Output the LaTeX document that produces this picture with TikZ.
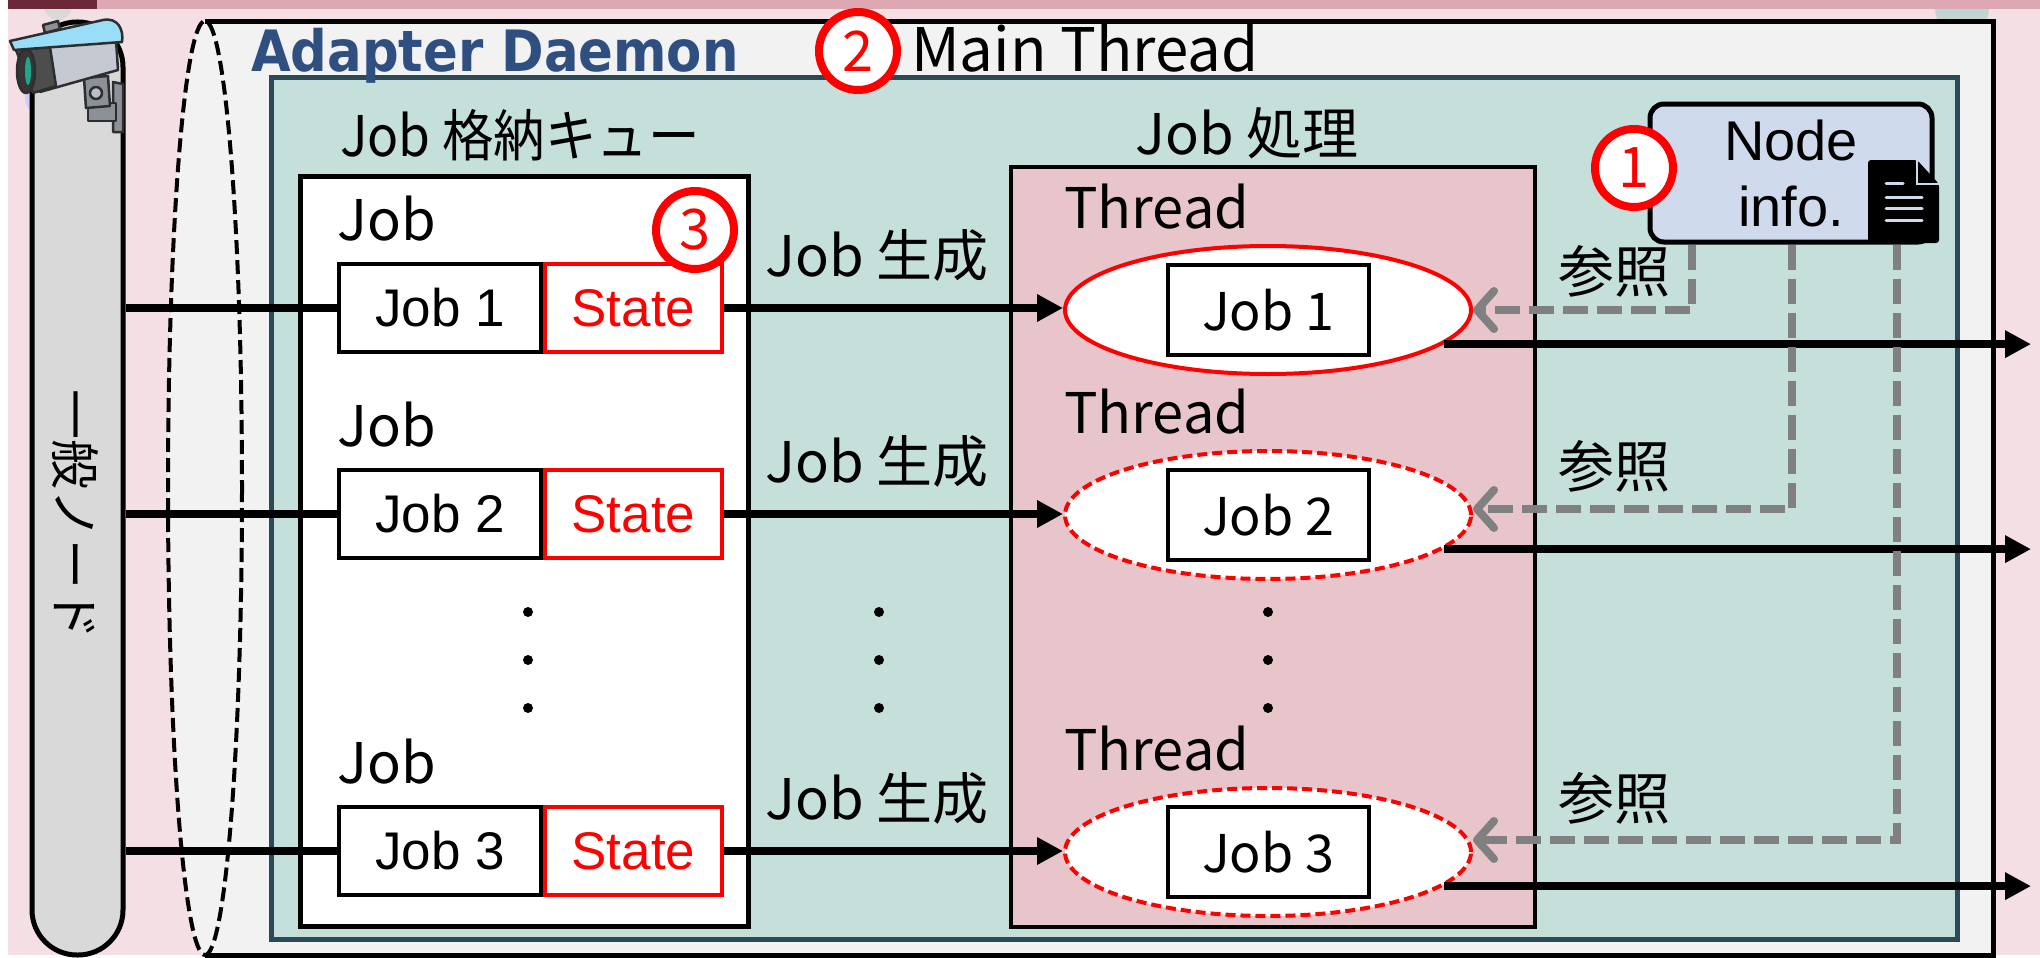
\documentclass[tikz,border=0pt]{standalone}
\usepackage{fontspec}
\setmainfont{Liberation Sans}
\newfontfamily\jpfont{Noto Sans CJK JP}
\newfontfamily\jpnarrow[FakeStretch=0.92]{Noto Sans CJK JP}
\newfontfamily\daemonfont[FakeStretch=0.9]{DejaVu Sans}
\usetikzlibrary{arrows.meta,shapes.geometric,positioning}

\definecolor{bgpink}{HTML}{F3DFE4}
\definecolor{barpink}{HTML}{DEA8B3}
\definecolor{barwine}{HTML}{6B2839}
\definecolor{daemongray}{HTML}{F2F2F2}
\definecolor{mainteal}{HTML}{C5DFDB}
\definecolor{mainedge}{HTML}{2B4A55}
\definecolor{threadpink}{HTML}{E8C4CB}
\definecolor{infoblue}{HTML}{CFDBEC}
\definecolor{titleblue}{HTML}{2F4F80}
\definecolor{refgray}{HTML}{808080}
\definecolor{pipegray}{HTML}{D9D9D9}
\definecolor{camedge}{HTML}{2E2E2E}
\definecolor{camvisor}{HTML}{9ADDF6}
\definecolor{cambody}{HTML}{C5CAD2}
\definecolor{cambarrel}{HTML}{4D4D4D}
\definecolor{camlens}{HTML}{1DA88E}
\definecolor{camsteel}{HTML}{8C9198}

\begin{document}
\begin{tikzpicture}[
    x=1pt, y=-1pt,
    lbl/.style={font=\jpfont\fontsize{56}{60}\selectfont, inner sep=0pt},
    jobbox/.style={draw, line width=4pt, fill=white, minimum width=202pt, minimum height=88pt, inner sep=0pt, font=\fontsize{53}{60}\selectfont},
    statebox/.style={jobbox, draw=red, text=red, minimum width=177pt},
    thread/.style={ellipse, draw=red, line width=4pt, fill=white, minimum width=406pt, minimum height=128pt, inner sep=0pt},
    threadidle/.style={thread, dash pattern=on 10pt off 5pt},
    jobrun/.style={draw, line width=4pt, fill=white, minimum width=201pt, minimum height=90pt, inner sep=0pt, font=\jpfont\fontsize{52}{60}\selectfont},
    badge/.style={circle, draw=red, line width=8pt, fill=white, minimum size=78pt, inner sep=0pt, text=red, font=\jpfont\fontsize{56}{60}\selectfont},
    link/.style={line width=7.5pt},
    flow/.style={link, -{Triangle[length=26pt,width=26pt]}},
    ref/.style={draw=refgray, line width=8pt, dash pattern=on 25pt off 9pt, -{Straight Barb[length=17pt,width=38pt,round]}}
]
    \useasboundingbox (0,0) rectangle (2040,958);

    % slide background and top bar
    \fill[white] (0,0) rectangle (2040,958);
    \fill[bgpink] (8,0) rectangle (2040,955);
    \fill[gray!30] (58,6) circle (14);
    \fill[mainteal!90!gray] (1962,8) circle (27);
    \fill[barpink] (8,0) rectangle (2040,9);
    \fill[barwine] (8,0) rectangle (97,9);
    \fill[infoblue!80!blue!60!white] (43,98) circle (18);

    % daemon area, left side closed by the dashed ellipse
    \fill[daemongray] (205,488) ellipse [x radius=37, y radius=467];
    \fill[daemongray] (205,22) rectangle (1993,955);
    \draw[line width=5pt] (205,22) -- (1993,22) -- (1993,955) -- (205,955);
    \draw[line width=4pt, dash pattern=on 14pt off 6pt] (205,488) ellipse [x radius=37, y radius=467];

    % general node pipe
    \node[draw, fill=pipegray, line width=5pt, rounded corners=45pt, minimum width=91pt, minimum height=933pt] (pipe) at (77.5,488.5) {};
    \node[lbl, rotate=-90, font=\jpfont\fontsize{50}{55}\selectfont] (pipelbl) at (75,514) {一般ノード};

    % camera on top of the pipe
    \begin{scope}[line width=2.5pt, draw=camedge, line join=round]
        \filldraw[fill=camsteel] (113,82) -- (123,84) -- (123,132) -- (113,132) -- cycle;
        \filldraw[fill=camsteel] (88,103) -- (116,103) -- (116,121) -- (88,121) -- cycle;
        \filldraw[fill=camsteel] (84,78) -- (108,76) -- (110,106) -- (86,108) -- cycle;
        \filldraw[fill=camsteel!60!white] (96,93) circle (6);
        \filldraw[fill=cambody] (16,48) -- (116,40) -- (118,70) -- (40,92) -- cycle;
        \filldraw[fill=cambarrel] (16,50) -- (50,47) -- (56,86) -- (33,93) -- cycle;
        \filldraw[fill=cambarrel!70!black] (26,71) ellipse [x radius=9, y radius=22];
        \fill[camlens] (28,71) ellipse [x radius=3, y radius=14];
        \filldraw[fill=camsteel] (43,25) -- (58,21) -- (60,29) -- (45,33) -- cycle;
        \filldraw[fill=camvisor] (10,41) -- (103,20) .. controls (118,17) and (124,30) .. (122,42) -- (14,50) -- cycle;
    \end{scope}

    % main thread
    \node[draw=mainedge, fill=mainteal, line width=5pt, minimum width=1686pt, minimum height=861pt] (main) at (1114,508.5) {};
    \node[anchor=base west, inner sep=0pt, text=titleblue, font=\daemonfont\bfseries\fontsize{57}{60}\selectfont] (daemon) at (251,72) {Adapter Daemon};
    \node[lbl, anchor=base west, font=\jpfont\fontsize{60}{64}\selectfont] (mainlbl) at (911,72) {Main Thread};

    % job queue and worker pool
    \node[draw, fill=white, line width=5pt, minimum width=448pt, minimum height=750pt] (queue) at (524,551) {};
    \node[lbl, anchor=base, font=\jpnarrow\fontsize{56}{60}\selectfont] (queuelbl) at (520,156) {Job 格納キュー};
    \node[draw, fill=threadpink, line width=4.5pt, minimum width=524pt, minimum height=760pt] (pool) at (1273,547) {};
    \node[lbl, anchor=base] (poollbl) at (1247,154) {Job 処理};

    % node info with document icon
    \node[draw, fill=infoblue, line width=5pt, rounded corners=14pt, minimum width=282pt, minimum height=138pt, align=center, font=\fontsize{56}{66}\selectfont] (info) at (1791,173) {Node\\info.};
    \fill[black, rounded corners=3pt] (1868,160) -- (1917,160) -- (1939,184) -- (1939,243) -- (1868,243) -- cycle;
    \draw[infoblue, line width=2pt] (1917,160) -- (1917,184) -- (1939,184);
    \draw[infoblue, line width=3pt, line cap=round] (1886,183) -- (1903,183);
    \foreach \yy in {197,208,220}
        \draw[infoblue, line width=3pt, line cap=round] (1886,\yy) -- (1922,\yy);

    \coordinate (edge) at (2031,0);

    \foreach \n/\yj/\ye/\yr/\xr/\yl/\st in {1/308/310/310/1692/292/thread, 2/514/515/509/1792/487/threadidle, 3/851/852/840/1897/819/threadidle} {
        % queued job with its state
        \node[jobbox, anchor=east] (j\n) at (543,\yj) {Job \n};
        \node[statebox, right=0pt of j\n] (s\n) {State};
        \node[lbl, anchor=base west] (jl\n) at (337,\yj-68) {Job};
        \node[lbl, anchor=base] (gen\n) at (877,\yj-32) {Job 生成};
        \draw[link] (j\n.west -| pipe.east) -- (j\n.west);
        % worker thread
        \node[lbl, anchor=base west] (tl\n) at (1064,\ye-82) {Thread};
        \node[\st] (t\n) at (1268,\ye) {};
        \node[jobrun] (k\n) at (t\n) {Job \n};
        \draw[flow] (s\n.east) -- (s\n.east -| t\n.west);
        \draw[flow] (t\n.-11) -- (t\n.-11 -| edge);
        % lookup of node info
        \coordinate (c\n) at (\xr,\yr);
        \draw[ref] (info.south -| c\n) -- (c\n) -- (c\n -| t\n.east);
        \node[lbl, anchor=base] (rl\n) at (1614,\yl) {参照};
    }

    % vertical ellipses
    \foreach \yy in {612,660,708} {
        \foreach \xx in {528,879,1268}
            \fill (\xx,\yy) circle (5);
    }

    \node[badge] (b1) at (1634,168) {1};
    \node[badge] (b2) at (858,51) {2};
    \node[badge] (b3) at (695,230) {3};
\end{tikzpicture}
\end{document}
